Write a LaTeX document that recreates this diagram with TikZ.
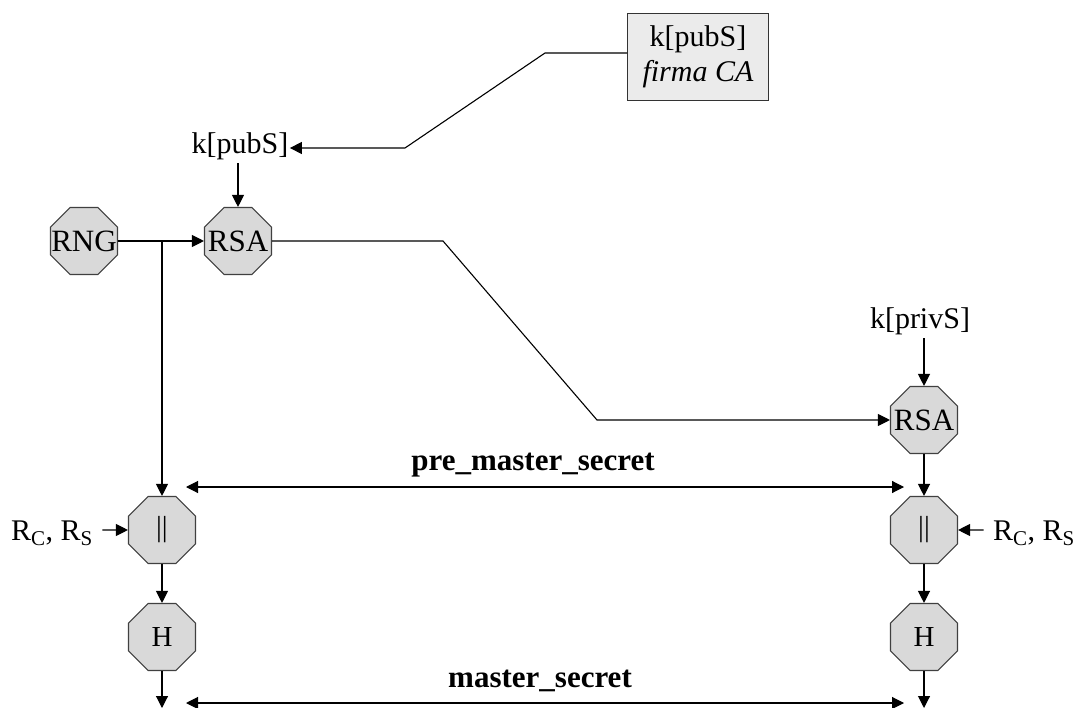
\documentclass[tikz,border=0pt]{standalone}
\usepackage{fontspec}
\setmainfont{Liberation Serif}
\usetikzlibrary{shapes.geometric,arrows.meta}
\newcommand{\octtext}[1]{\makebox[0pt]{#1}}
\begin{document}
\begin{tikzpicture}[x=1pt,y=-1pt,line width=1.1pt,
        oct/.style={regular polygon,regular polygon sides=8,minimum size=72.5pt,inner sep=0pt,
            draw=black!75,fill=black!15,font=\fontsize{31}{31}\selectfont},
        octsm/.style={oct,font=\fontsize{29}{29}\selectfont},
        lbl/.style={font=\fontsize{30}{35}\selectfont,inner sep=1pt},
        arr/.style={-{Triangle[length=12pt,width=12pt]}},
        dbl/.style={{Triangle[length=12pt,width=12pt]}-{Triangle[length=12pt,width=12pt]}}]
    \useasboundingbox (0,0) rectangle (1086,708);
    % nodes
    \node[oct] (rng) at (84,241) {\octtext{RNG}};
    \node[oct] (rsaC) at (238,241) {\octtext{RSA}};
    \node[oct] (rsaS) at (924,420) {\octtext{RSA}};
    \node[octsm] (catC) at (162,530) {\octtext{||}};
    \node[octsm] (catS) at (924,530) {\octtext{||}};
    \node[octsm] (hC) at (162,637) {\octtext{H}};
    \node[octsm] (hS) at (924,637) {\octtext{H}};
    \node[draw=black!80,fill=black!8,line width=1pt,minimum width=141pt,minimum height=87pt,
        align=center,lbl] (cert) at (698,57) {k[pubS]\\\textit{firma CA}};
    \node[lbl] (pub) at (240,146) {k[pubS]};
    \node[lbl] (priv) at (920,321) {k[privS]};
    \node[lbl] (rL) at (52,533) {R\textsubscript{C}, R\textsubscript{S}};
    \node[lbl] (rR) at (1034,533) {R\textsubscript{C}, R\textsubscript{S}};
    \node[lbl,font=\fontsize{31}{31}\selectfont\bfseries] (pms) at (533,465) {pre\_master\_secret};
    \node[lbl,font=\fontsize{31}{31}\selectfont\bfseries] (ms) at (540,681) {master\_secret};
    % free ends
    \coordinate (c1) at (545,53);
    \coordinate (c2) at (405,148);
    \coordinate (b1) at (443,238);
    \coordinate (b2) at (597,420);
    \coordinate (p1) at (186,487);
    \coordinate (p2) at (904,487);
    \coordinate (m1) at (186,703);
    \coordinate (m2) at (904,703);
    \coordinate (eC) at (162,708);
    \coordinate (eS) at (924,708);
    % connectors
    \draw[arr] (cert.west |- c1) -- (c1) -- (c2) -- (pub.east |- c2);
    \draw[arr] (pub.south -| rsaC.north) ++(0,2) -- (rsaC.north);
    \draw[arr] (rng.east) -- (rsaC.west);
    \draw[arr] (rng.east -| catC.north) -- (catC.north);
    \draw[arr] (rsaC.east) -- (rsaC.east -| b1) -- (b2 |- rsaS.west) -- (rsaS.west);
    \draw[arr] (priv.south -| rsaS.north) ++(0,2) -- (rsaS.north);
    \draw[arr] (rsaS.south) -- (catS.north);
    \draw[dbl] (p1) -- (p2);
    \draw[arr] (rL.east) ++(8,-3) -- (catC.west);
    \draw[arr] (rR.west) ++(-8,-3) -- (catS.east);
    \draw[arr] (catC.south) -- (hC.north);
    \draw[arr] (catS.south) -- (hS.north);
    \draw[arr] (hC.south) -- (eC);
    \draw[arr] (hS.south) -- (eS);
    \draw[dbl] (m1) -- (m2);
\end{tikzpicture}
\end{document}
